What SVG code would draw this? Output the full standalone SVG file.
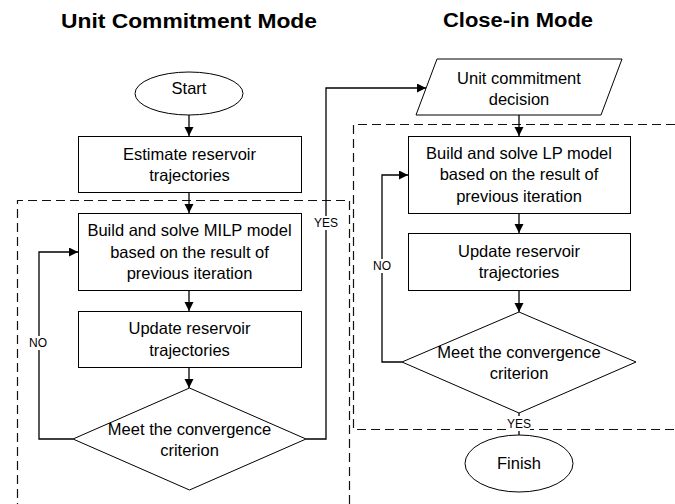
<svg xmlns="http://www.w3.org/2000/svg" width="675" height="504" viewBox="0 0 675 504">
<defs>
<marker id="arr" markerWidth="10" markerHeight="10" refX="9" refY="4.5" orient="auto" markerUnits="userSpaceOnUse">
<path d="M0,0 L9,4.5 L0,9 Z" fill="#000"/>
</marker>
<style>
.shape{fill:#fff;stroke:#000;stroke-width:1}
.conn{fill:none;stroke:#000;stroke-width:1.3}
.dash{fill:none;stroke:#111;stroke-width:1.2;stroke-dasharray:9,5}
.t{font-family:"Liberation Sans",Arial,sans-serif;font-size:16.5px;fill:#000;text-anchor:middle}
.title{font-family:"Liberation Sans",Arial,sans-serif;font-size:20px;font-weight:bold;fill:#000;text-anchor:middle}
.lbl{font-family:"Liberation Sans",Arial,sans-serif;font-size:12px;fill:#000;text-anchor:middle}
.bg{fill:#fff;stroke:none}
</style>
</defs>
<rect width="675" height="504" fill="#fff"/>
<text class="title" x="189" y="28" textLength="256" lengthAdjust="spacingAndGlyphs">Unit Commitment Mode</text>
<text class="title" x="518" y="27" textLength="150" lengthAdjust="spacingAndGlyphs">Close-in Mode</text>
<g id="regions">
<path class="dash" d="M349.5,504 V200.5 H17.5 V504"/>
<path class="dash" d="M675,124.5 H353.5 V429.5 H675"/>
</g>
<g id="connectors">
<line class="conn" x1="189" y1="115" x2="189" y2="136" marker-end="url(#arr)"/>
<line class="conn" x1="189" y1="192" x2="189" y2="213" marker-end="url(#arr)"/>
<line class="conn" x1="189" y1="290" x2="189" y2="311" marker-end="url(#arr)"/>
<line class="conn" x1="189" y1="367" x2="189" y2="388" marker-end="url(#arr)"/>
<path class="conn" d="M73,439 H39 V252 H78" marker-end="url(#arr)"/>
<path class="conn" d="M306,439 H326 V88 H426" marker-end="url(#arr)"/>
<line class="conn" x1="519" y1="115" x2="519" y2="136" marker-end="url(#arr)"/>
<line class="conn" x1="519" y1="213" x2="519" y2="233" marker-end="url(#arr)"/>
<line class="conn" x1="519" y1="290" x2="519" y2="312" marker-end="url(#arr)"/>
<path class="conn" d="M402,362 H382 V175 H408" marker-end="url(#arr)"/>
<line class="conn" x1="519" y1="413" x2="519" y2="435"/>
<rect class="bg" x="29" y="336" width="19" height="14"/>
<text class="lbl" x="38" y="347">NO</text>
<rect class="bg" x="315" y="216" width="22" height="14"/>
<text class="lbl" x="326" y="227">YES</text>
<rect class="bg" x="373" y="259" width="19" height="14"/>
<text class="lbl" x="382" y="270">NO</text>
<rect class="bg" x="508" y="416" width="22" height="15"/>
<text class="lbl" x="519" y="428">YES</text>
</g>
<g id="start">
<ellipse class="shape" cx="189" cy="93.5" rx="54" ry="21.5"/>
<text class="t" x="189" y="94">Start</text>
</g>
<g id="estimate">
<rect class="shape" x="78.5" y="136.5" width="223" height="56"/>
<text class="t" x="189.5" y="159.5">Estimate reservoir</text>
<text class="t" x="189.5" y="181">trajectories</text>
</g>
<g id="milp">
<rect class="shape" x="78.5" y="213.5" width="223" height="77"/>
<text class="t" x="189.5" y="236">Build and solve MILP model</text>
<text class="t" x="189.5" y="257.5">based on the result of</text>
<text class="t" x="189.5" y="279">previous iteration</text>
</g>
<g id="update1">
<rect class="shape" x="78.5" y="311.5" width="223" height="56"/>
<text class="t" x="189.5" y="333.5">Update reservoir</text>
<text class="t" x="189.5" y="355.5">trajectories</text>
</g>
<g id="converge1">
<polygon class="shape" points="189.5,388 306,439 189.5,490 73,439" style="fill:none"/>
<text class="t" x="189.5" y="435">Meet the convergence</text>
<text class="t" x="189.5" y="456">criterion</text>
</g>
<g id="ucdecision">
<polygon class="shape" points="437,59 622,59 601,115 416,115"/>
<text class="t" x="519" y="83.5">Unit commitment</text>
<text class="t" x="519" y="104.5">decision</text>
</g>
<g id="lp">
<rect class="shape" x="408.5" y="136.5" width="222" height="77"/>
<text class="t" x="519" y="158.5">Build and solve LP model</text>
<text class="t" x="519" y="180">based on the result of</text>
<text class="t" x="519" y="202">previous iteration</text>
</g>
<g id="update2">
<rect class="shape" x="408.5" y="233.5" width="222" height="57"/>
<text class="t" x="519" y="256.5">Update reservoir</text>
<text class="t" x="519" y="278">trajectories</text>
</g>
<g id="converge2">
<polygon class="shape" points="519,312 636,362 519,413 402,362" style="fill:none"/>
<text class="t" x="519" y="358">Meet the convergence</text>
<text class="t" x="519" y="379">criterion</text>
</g>
<g id="finish">
<ellipse class="shape" cx="519" cy="463.5" rx="54" ry="28.5"/>
<text class="t" x="519" y="469">Finish</text>
</g>
</svg>
